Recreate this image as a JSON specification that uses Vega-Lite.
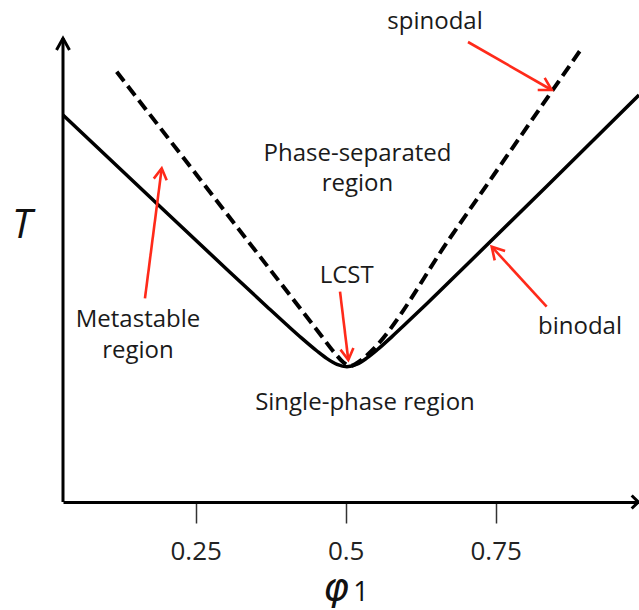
{
  "$schema": "https://vega.github.io/schema/vega-lite/v6.json",
  "width": 576,
  "height": 464,
  "autosize": {"type": "none"},
  "padding": {"left": 63, "top": 38, "right": 0, "bottom": 108},
  "background": "white",
  "config": {"view": {"stroke": null}},
  "datasets": {
    "binodal": [
      {"x": 0.0289, "y": 3.871}, {"x": 0.1689, "y": 3.078}, {"x": 0.3022, "y": 2.325},
      {"x": 0.3689, "y": 1.953}, {"x": 0.4022, "y": 1.77}, {"x": 0.4272, "y": 1.636},
      {"x": 0.4522, "y": 1.51}, {"x": 0.4689, "y": 1.434}, {"x": 0.4856, "y": 1.376},
      {"x": 0.5022, "y": 1.353}, {"x": 0.5189, "y": 1.378}, {"x": 0.5356, "y": 1.441},
      {"x": 0.5522, "y": 1.52}, {"x": 0.5772, "y": 1.654}, {"x": 0.6022, "y": 1.794},
      {"x": 0.6356, "y": 1.985}, {"x": 0.7022, "y": 2.375}, {"x": 0.8356, "y": 3.161},
      {"x": 0.9889, "y": 4.07}
    ],
    "spinodal": [
      {"x": 0.1184, "y": 4.303}, {"x": 0.2572, "y": 3.228}, {"x": 0.3906, "y": 2.196},
      {"x": 0.4572, "y": 1.68}, {"x": 0.4822, "y": 1.487}, {"x": 0.4955, "y": 1.4},
      {"x": 0.5072, "y": 1.36}, {"x": 0.5189, "y": 1.39}, {"x": 0.5305, "y": 1.44},
      {"x": 0.5439, "y": 1.515}, {"x": 0.6739, "y": 2.64}, {"x": 0.7906, "y": 3.649},
      {"x": 0.8934, "y": 4.537}
    ],
    "yaxis": [{"x": 0.0289, "y": 0, "y2": 4.64}],
    "axisArrows": [
      {"seg": "ya", "o": 1, "x": 0.0181, "y": 4.52}, {"seg": "ya", "o": 2, "x": 0.0289, "y": 4.637}, {"seg": "ya", "o": 3, "x": 0.0397, "y": 4.52},
      {"seg": "xa", "o": 1, "x": 0.9767, "y": 0.065}, {"seg": "xa", "o": 2, "x": 0.9877, "y": 0}, {"seg": "xa", "o": 3, "x": 0.9767, "y": -0.065}
    ],
    "redArrows": [
      {"seg": "s1", "o": 1, "x": 0.7039, "y": 4.6}, {"seg": "s1", "o": 2, "x": 0.8434, "y": 4.12},
      {"seg": "s2", "o": 1, "x": 0.8317, "y": 4.241}, {"seg": "s2", "o": 2, "x": 0.8434, "y": 4.12}, {"seg": "s2", "o": 3, "x": 0.8201, "y": 4.12},
      {"seg": "b1", "o": 1, "x": 0.835, "y": 1.953}, {"seg": "b1", "o": 2, "x": 0.7434, "y": 2.553},
      {"seg": "b2", "o": 1, "x": 0.7484, "y": 2.416}, {"seg": "b2", "o": 2, "x": 0.7434, "y": 2.553}, {"seg": "b2", "o": 3, "x": 0.7657, "y": 2.511},
      {"seg": "l1", "o": 1, "x": 0.4906, "y": 2.103}, {"seg": "l1", "o": 2, "x": 0.5044, "y": 1.42},
      {"seg": "l2", "o": 1, "x": 0.5129, "y": 1.54}, {"seg": "l2", "o": 2, "x": 0.5044, "y": 1.42}, {"seg": "l2", "o": 3, "x": 0.4914, "y": 1.524},
      {"seg": "m1", "o": 1, "x": 0.1655, "y": 2.037}, {"seg": "m1", "o": 2, "x": 0.1934, "y": 3.337},
      {"seg": "m2", "o": 1, "x": 0.1802, "y": 3.234}, {"seg": "m2", "o": 2, "x": 0.1934, "y": 3.337}, {"seg": "m2", "o": 3, "x": 0.2017, "y": 3.217}
    ],
    "labels": [
      {"text": "spinodal", "x": 0.6489, "y": 4.73},
      {"text": "Phase-separated", "x": 0.5197, "y": 3.413},
      {"text": "region", "x": 0.5197, "y": 3.11},
      {"text": "LCST", "x": 0.5017, "y": 2.187},
      {"text": "Metastable", "x": 0.1539, "y": 1.753},
      {"text": "region", "x": 0.1539, "y": 1.44},
      {"text": "Single-phase region", "x": 0.5322, "y": 0.92},
      {"text": "binodal", "x": 0.8906, "y": 1.68}
    ],
    "tLabel": [{"text": "T", "x": -0.0395, "y": 2.64}],
    "phiLabel": [{"text": "φ", "x": 0.4839, "y": -0.975}],
    "subLabel": [{"text": "1", "x": 0.5256, "y": -0.99}]
  },
  "encoding": {
    "x": {
      "field": "x", "type": "quantitative",
      "scale": {"domain": [0.0289, 0.9889], "nice": false, "zero": false},
      "axis": {
        "values": [0.25, 0.5, 0.75], "labelExpr": "'' + datum.value", "title": null, "grid": false,
        "domainColor": "black", "domainWidth": 3, "tickColor": "#333", "tickWidth": 1.5, "tickSize": 21,
        "labelFont": "Open Sans", "labelFontSize": 26, "labelColor": "#222", "labelPadding": 15, "labelFlush": false
      }
    },
    "y": {
      "field": "y", "type": "quantitative",
      "scale": {"domain": [0, 4.64], "nice": false, "zero": false},
      "axis": null
    }
  },
  "layer": [
    {
      "data": {"name": "yaxis"},
      "mark": {"type": "rule", "color": "black", "strokeWidth": 3},
      "encoding": {"y2": {"field": "y2"}}
    },
    {
      "data": {"name": "axisArrows"},
      "mark": {"type": "line", "color": "black", "strokeWidth": 3},
      "encoding": {"detail": {"field": "seg"}, "order": {"field": "o"}}
    },
    {
      "data": {"name": "binodal"},
      "mark": {"type": "line", "color": "black", "strokeWidth": 3.5, "interpolate": "monotone"},
      "encoding": {}
    },
    {
      "data": {"name": "spinodal"},
      "mark": {"type": "line", "color": "black", "strokeWidth": 4, "interpolate": "monotone", "strokeDash": [12, 6]},
      "encoding": {}
    },
    {
      "data": {"name": "redArrows"},
      "mark": {"type": "line", "color": "#ff2a1a", "strokeWidth": 2.6},
      "encoding": {"detail": {"field": "seg"}, "order": {"field": "o"}}
    },
    {
      "data": {"name": "labels"},
      "mark": {"type": "text", "font": "Open Sans", "fontSize": 24, "color": "#1a1a1a", "align": "center", "baseline": "alphabetic"},
      "encoding": {"text": {"field": "text"}}
    },
    {
      "data": {"name": "tLabel"},
      "mark": {"type": "text", "font": "Open Sans", "fontSize": 40, "fontStyle": "italic", "color": "#111", "align": "center", "baseline": "alphabetic"},
      "encoding": {"text": {"field": "text"}}
    },
    {
      "data": {"name": "phiLabel"},
      "mark": {"type": "text", "font": "DejaVu Sans", "fontSize": 39, "fontStyle": "italic", "color": "#111", "align": "center", "baseline": "alphabetic"},
      "encoding": {"text": {"field": "text"}}
    },
    {
      "data": {"name": "subLabel"},
      "mark": {"type": "text", "font": "Open Sans", "fontSize": 27, "color": "#111", "align": "center", "baseline": "alphabetic"},
      "encoding": {"text": {"field": "text"}}
    }
  ]
}
